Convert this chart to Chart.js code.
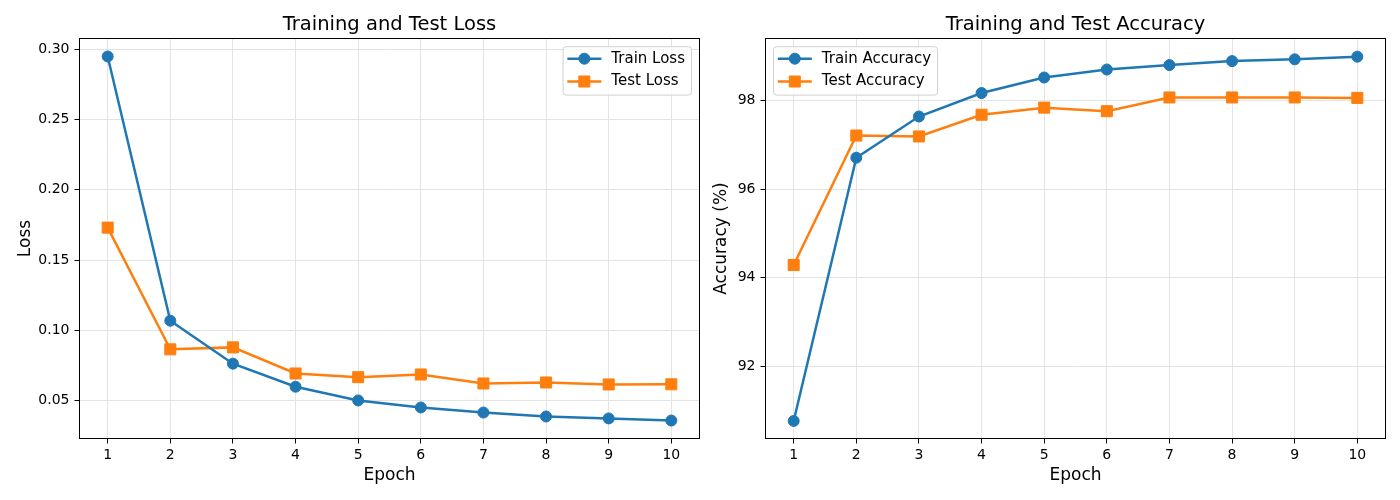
<!DOCTYPE html>
<html>
<head>
<meta charset="utf-8">
<script src="https://cdn.jsdelivr.net/npm/chart.js@4.4.1/dist/chart.umd.min.js"></script>
<style>
  html, body { margin: 0; padding: 0; background: #fff; }
  #wrap { position: relative; width: 1400px; height: 500px; overflow: hidden; }
  .panel { position: absolute; top: 0; height: 500px; }
</style>
</head>
<body>
<div id="wrap">
  <div class="panel" style="left:700px"><canvas id="accChart" width="700" height="500"></canvas></div>
  <div class="panel" style="left:0"><canvas id="lossChart" width="710" height="500"></canvas></div>
</div>
<script>
// values
var epochs = [1, 2, 3, 4, 5, 6, 7, 8, 9, 10];
var trainLoss = [0.295, 0.1068, 0.0762, 0.0598, 0.0500, 0.0450, 0.0414, 0.0386, 0.0372, 0.0357];
var testLoss = [0.1731, 0.0864, 0.0878, 0.0692, 0.0666, 0.0685, 0.0621, 0.0628, 0.0614, 0.0615];
var trainAcc = [90.77, 96.71, 97.64, 98.17, 98.52, 98.70, 98.80, 98.89, 98.93, 98.99];
var testAcc = [94.29, 97.21, 97.19, 97.68, 97.84, 97.76, 98.07, 98.07, 98.07, 98.06];
var lossTicks = [0.05, 0.10, 0.15, 0.20, 0.25, 0.30];
var accTicks = [92, 94, 96, 98];

var BLUE = '#1f77b4';
var ORANGE = '#ff7f0e';
var FONT = '"DejaVu Sans", sans-serif';

Chart.defaults.font.family = FONT;
Chart.defaults.color = '#000';

function points(ys) {
  return epochs.map(function (e, i) { return { x: e, y: ys[i] }; });
}

function series(label, ys, color, style) {
  return {
    label: label,
    data: points(ys),
    borderColor: color,
    backgroundColor: color,
    borderWidth: 2.5,
    pointStyle: style,
    pointRadius: style === 'rect' ? 7.8 : 5.5,
    pointBorderWidth: 1,
    pointBorderColor: color,
    pointBackgroundColor: color,
    tension: 0
  };
}

// title, spines and inset legend, matplotlib style
var framePlugin = {
  id: 'frame',
  afterDraw: function (chart, args, opts) {
    var ctx = chart.ctx, a = chart.chartArea;
    ctx.save();
    ctx.fillStyle = '#000';
    ctx.font = '19.5px ' + FONT;
    ctx.textAlign = 'center';
    ctx.textBaseline = 'alphabetic';
    ctx.fillText(opts.title, (a.left + a.right) / 2, 30);

    ctx.strokeStyle = '#000';
    ctx.lineWidth = 1;
    ctx.strokeRect(a.left, a.top, a.right - a.left, a.bottom - a.top);

    // legend
    ctx.font = '15px ' + FONT;
    var sets = chart.data.datasets;
    var tw = 0;
    sets.forEach(function (d) { tw = Math.max(tw, ctx.measureText(d.label).width); });
    var bw = 48.3 + tw + 6.5, bh = 48.4;
    var bx = opts.legend === 'right' ? a.right - 8 - bw : a.left + 8;
    var by = a.top + 8.2;
    ctx.beginPath();
    ctx.roundRect(bx, by, bw, bh, 3);
    ctx.fillStyle = 'rgba(255,255,255,0.8)';
    ctx.fill();
    ctx.strokeStyle = '#d0d0d0';
    ctx.stroke();
    sets.forEach(function (d, i) {
      var cy = by + 12 + i * 22.8;
      ctx.strokeStyle = d.borderColor;
      ctx.fillStyle = d.borderColor;
      ctx.lineWidth = d.borderWidth;
      ctx.beginPath();
      ctx.moveTo(bx + 4.3, cy);
      ctx.lineTo(bx + 38.3, cy);
      ctx.stroke();
      ctx.lineWidth = d.pointBorderWidth;
      Chart.helpers.drawPoint(ctx, { pointStyle: d.pointStyle, radius: d.pointRadius, borderWidth: d.pointBorderWidth, rotation: 0 }, bx + 21.3, cy);
      ctx.fillStyle = '#000';
      ctx.textAlign = 'left';
      ctx.textBaseline = 'middle';
      ctx.fillText(d.label, bx + 48.3, cy);
    });
    ctx.restore();
  }
};

function makeChart(id, cfg) {
  var grid = { color: '#e3e3e3', lineWidth: 1, tickColor: '#000', tickLength: 5, tickWidth: 1 };
  return new Chart(document.getElementById(id), {
    type: 'line',
    data: { datasets: cfg.datasets },
    options: {
      responsive: false,
      animation: false,
      events: [],
      layout: { padding: { left: 0, right: cfg.padRight, top: 38.5, bottom: 0 } },
      plugins: {
        legend: { display: false },
        tooltip: { enabled: false },
        frame: { title: cfg.title, legend: cfg.legend }
      },
      scales: {
        x: {
          type: 'linear',
          min: 0.55,
          max: 10.45,
          afterBuildTicks: function (s) { s.ticks = epochs.map(function (v) { return { value: v }; }); },
          afterFit: function (s) { s.height = 61.5; s.paddingLeft = 0; s.paddingRight = 0; },
          ticks: { font: { size: 14 }, color: '#000', padding: 3, maxRotation: 0 },
          grid: grid,
          border: { display: false },
          title: { display: true, text: 'Epoch', font: { size: 17 }, color: '#000', padding: { top: 0, bottom: 14.5 } }
        },
        y: {
          type: 'linear',
          min: cfg.yMin,
          max: cfg.yMax,
          afterBuildTicks: function (s) { s.ticks = cfg.yTicks.map(function (v) { return { value: v }; }); },
          afterFit: function (s) { s.width = cfg.yWidth; s.paddingTop = 0; s.paddingBottom = 0; },
          ticks: { font: { size: 14 }, color: '#000', padding: 5, callback: cfg.fmt },
          grid: grid,
          border: { display: false },
          title: { display: true, text: cfg.yTitle, font: { size: 17 }, color: '#000', padding: { top: cfg.yTitlePad, bottom: 0 } }
        }
      }
    },
    plugins: [framePlugin]
  });
}

makeChart('lossChart', {
  datasets: [series('Train Loss', trainLoss, BLUE, 'circle'), series('Test Loss', testLoss, ORANGE, 'rect')],
  title: 'Training and Test Loss',
  legend: 'right',
  padRight: 10.5,
  yWidth: 79.5,
  yMin: 0.0229,
  yMax: 0.3078,
  yTicks: lossTicks,
  fmt: function (v) { return v.toFixed(2); },
  yTitle: 'Loss',
  yTitlePad: 15.3
});

makeChart('accChart', {
  datasets: [series('Train Accuracy', trainAcc, BLUE, 'circle'), series('Test Accuracy', testAcc, ORANGE, 'rect')],
  title: 'Training and Test Accuracy',
  legend: 'left',
  padRight: 14.5,
  yWidth: 65.5,
  yMin: 90.374,
  yMax: 99.40,
  yTicks: accTicks,
  fmt: function (v) { return String(v); },
  yTitle: 'Accuracy (%)',
  yTitlePad: 10.9
});
</script>
</body>
</html>
